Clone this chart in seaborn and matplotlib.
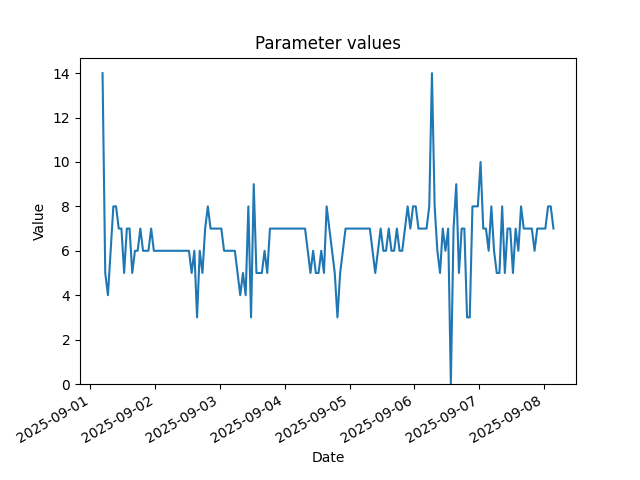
import pandas as pd
import numpy as np
import matplotlib
matplotlib.use("Agg")
import matplotlib.pyplot as plt
import seaborn as sns

# hourly readings starting 2025-09-01 04:30
start_time = "2025-09-01 04:30"
values = [
    14, 5, 4, 6, 8, 8, 7, 7, 5, 7, 7, 5, 6, 6, 7, 6, 6, 6, 7,
    6, 6, 6, 6, 6, 6, 6, 6, 6, 6, 6, 6, 6, 6,
    5, 6, 3, 6, 5, 7, 8,
    7, 7, 7, 7, 7,
    6, 6, 6, 6, 6,
    5, 4, 5, 4, 8, 3, 9, 5, 5, 5, 6, 5,
    7, 7, 7, 7, 7, 7, 7, 7, 7, 7, 7, 7, 7, 7,
    6, 5, 6, 5, 5, 6, 5, 8, 7, 6, 5, 3, 5, 6,
    7, 7, 7, 7, 7, 7, 7, 7, 7, 7,
    6, 5, 6, 7, 6, 6, 7, 6, 6, 7, 6, 6, 7, 8, 7, 8, 8,
    7, 7, 7, 7, 8, 14, 8, 6, 5, 7, 6, 7, 0, 7, 9, 5, 7, 7, 3, 3,
    8, 8, 8, 10, 7, 7, 6, 8, 6, 5, 5, 8, 5, 7, 7, 5, 7, 6, 8,
    7, 7, 7, 7, 6, 7, 7, 7, 7, 8, 8, 7,
]

dates = pd.date_range(start_time, periods=len(values), freq="h")
df = pd.DataFrame({"Date": dates, "Value": values})

fig, ax = plt.subplots(figsize=(6.4, 4.8), dpi=100)
sns.lineplot(data=df, x="Date", y="Value", ax=ax)
ax.set_ylim(bottom=0)
ax.set_title("Parameter values")
ax.set_xlabel("Date")
ax.set_ylabel("Value")
fig.autofmt_xdate()
fig.savefig("out.png", dpi=100)
